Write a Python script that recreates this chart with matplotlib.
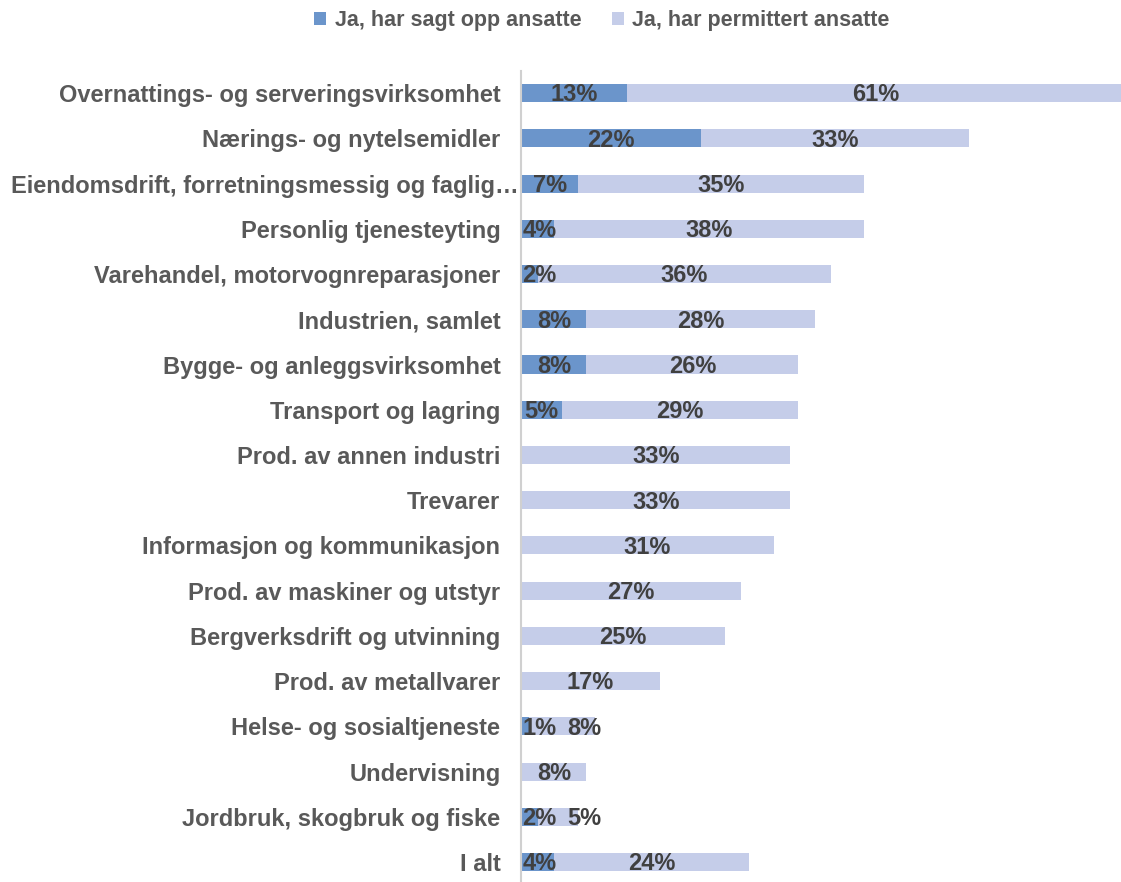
import matplotlib
matplotlib.use("Agg")
import matplotlib.pyplot as plt
from matplotlib.transforms import ScaledTranslation
import numpy as np

categories = [
    "Overnattings- og serveringsvirksomhet",
    "Nærings- og nytelsemidler",
    "Eiendomsdrift, forretningsmessig og faglig…",
    "Personlig tjenesteyting",
    "Varehandel, motorvognreparasjoner",
    "Industrien, samlet",
    "Bygge- og anleggsvirksomhet",
    "Transport og lagring",
    "Prod. av annen industri",
    "Trevarer",
    "Informasjon og kommunikasjon",
    "Prod. av maskiner og utstyr",
    "Bergverksdrift og utvinning",
    "Prod. av metallvarer",
    "Helse- og sosialtjeneste",
    "Undervisning",
    "Jordbruk, skogbruk og fiske",
    "I alt",
]
sagt_opp = [13, 22, 7, 4, 2, 8, 8, 5, 0, 0, 0, 0, 0, 0, 1, 0, 2, 4]
permittert = [61, 33, 35, 38, 36, 28, 26, 29, 33, 33, 31, 27, 25, 17, 8, 8, 5, 24]

c_sagt = "#6B95CB"
c_perm = "#C5CDE9"
txt = "#404040"

plt.rcParams['font.family'] = ['Liberation Sans', 'DejaVu Sans']
plt.rcParams['font.weight'] = 'bold'

fig = plt.figure(figsize=(11.21, 8.82), dpi=100)
ax = fig.add_axes([0.465, -0.003, 0.535, 0.923])

y = np.arange(len(categories))
b1 = ax.barh(y, sagt_opp, height=0.4, color=c_sagt, label="Ja, har sagt opp ansatte")
b2 = ax.barh(y, permittert, left=sagt_opp, height=0.4, color=c_perm,
             label="Ja, har permittert ansatte")

ax.set_xlim(0, 73.6)
ax.set_ylim(len(categories) - 0.5, -0.5)
ax.set_yticks(y)
ax.set_yticklabels(categories, fontsize=17, fontweight="bold", color="#595959")
ax.tick_params(axis="y", length=0, pad=15)
ax.set_xticks([])
for s in ["top", "right", "bottom"]:
    ax.spines[s].set_visible(False)
ax.spines["left"].set_color("#D0D0D0")
ax.spines["left"].set_linewidth(1.5)

# the truncated label runs up to the axis in the original
lab = ax.get_yticklabels()[2]
lab.set_transform(lab.get_transform() + ScaledTranslation(0.18, 0, fig.dpi_scale_trans))

# data labels, centred in each segment
pairs = []
for i in range(len(categories)):
    t1 = None
    if sagt_opp[i] > 0:
        t1 = ax.text(sagt_opp[i] / 2, y[i] + 0.04, f"{sagt_opp[i]}%", ha="center",
                     va="center", fontsize=17, fontweight="bold", color=txt)
    t2 = ax.text(sagt_opp[i] + permittert[i] / 2, y[i] + 0.04, f"{permittert[i]}%",
                 ha="center", va="center", fontsize=17, fontweight="bold", color=txt)
    pairs.append((t1, t2))

# keep labels inside the plot and apart from each other, like Excel does
fig.canvas.draw()
r = fig.canvas.get_renderer()
px = ax.transData.transform((1, 0))[0] - ax.transData.transform((0, 0))[0]
x_axis = ax.transData.transform((0, 0))[0]
for t1, t2 in pairs:
    if t1 is None:
        continue
    bb1 = t1.get_window_extent(r)
    if bb1.x0 < x_axis + 1:
        d = x_axis + 1 - bb1.x0
        t1.set_x(t1.get_position()[0] + d / px)
        bb1 = t1.get_window_extent(r)
    bb2 = t2.get_window_extent(r)
    if bb2.x0 < bb1.x1 + 11:
        d = bb1.x1 + 11 - bb2.x0
        t2.set_x(t2.get_position()[0] + d / px)

fig.legend(handles=[b1, b2], loc="center", bbox_to_anchor=(0.537, 0.977), ncol=2,
           frameon=False, handlelength=0.55, handleheight=0.55,
           handletextpad=0.4, columnspacing=1.4, labelcolor="#595959",
           prop={'weight': 'bold', 'size': 15.5})

fig.savefig("out.png", dpi=100)
